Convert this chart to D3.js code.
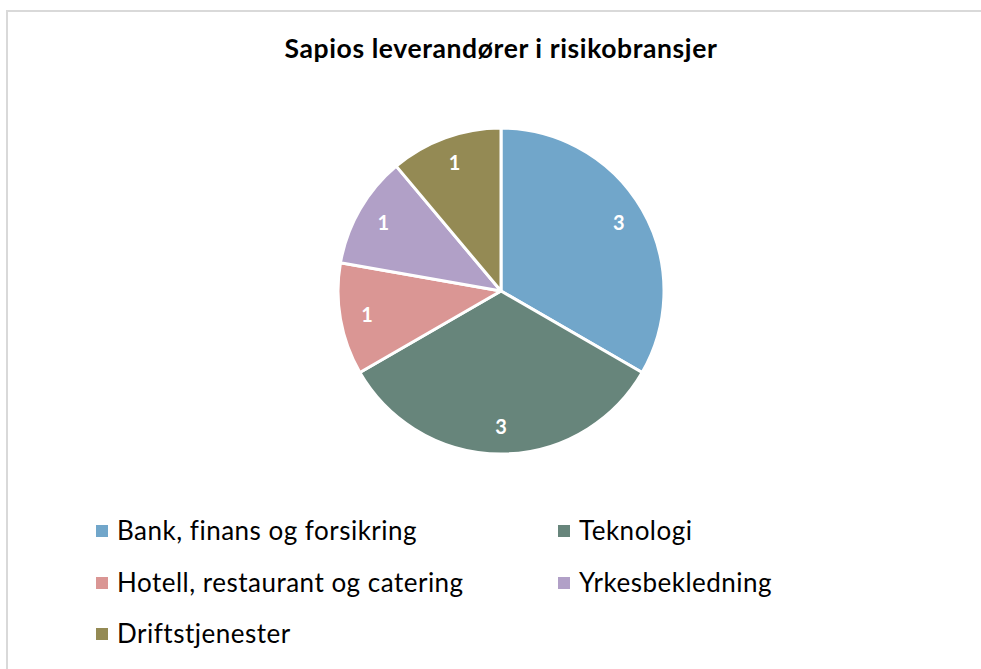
<!DOCTYPE html>
<html>
<head>
<meta charset="utf-8">
<script src="https://cdn.jsdelivr.net/npm/d3@7"></script>
<style>
html,body{margin:0;padding:0;background:#fff;}
svg{display:block;font-family:Lato,"Open Sans",sans-serif;}
</style>
</head>
<body>
<svg id="chart" width="981" height="669"></svg>
<script>
const title = "Sapios leverandører i risikobransjer";
const categories = ["Bank, finans og forsikring", "Teknologi", "Hotell, restaurant og catering", "Yrkesbekledning", "Driftstjenester"];
const values = [3, 3, 1, 1, 1];
const colors = ["#71A6CA", "#67857B", "#DA9694", "#B1A0C7", "#948A54"];

const svg = d3.select("#chart");
const W = 981, H = 669;

// chart area border
svg.append("rect")
  .attr("x", 7).attr("y", 11)
  .attr("width", W + 10).attr("height", H + 10)
  .attr("fill", "#fff")
  .attr("stroke", "#D9D9D9").attr("stroke-width", 2);

svg.append("text")
  .attr("x", 501).attr("y", 58)
  .attr("text-anchor", "middle")
  .attr("font-size", 26.5).attr("font-weight", "bold")
  .attr("letter-spacing", 0.6)
  .attr("fill", "#000")
  .text(title);

const cx = 501, cy = 291, R = 163;
const data = categories.map((c, i) => ({name: c, value: values[i], color: colors[i]}));
const pie = d3.pie().value(d => d.value).sort(null);
const arcs = pie(data);
const arc = d3.arc().innerRadius(0).outerRadius(R);
const labelArc = d3.arc().innerRadius(136).outerRadius(136);

const g = svg.append("g").attr("transform", `translate(${cx},${cy})`);
g.selectAll("path").data(arcs).join("path")
  .attr("d", arc)
  .attr("fill", d => d.data.color)
  .attr("stroke", "#fff").attr("stroke-width", 3)
  .attr("stroke-linejoin", "round");

g.selectAll("text.lbl").data(arcs).join("text")
  .attr("class", "lbl")
  .attr("transform", d => `translate(${labelArc.centroid(d)})`)
  .attr("text-anchor", "middle")
  .attr("dy", "0.36em")
  .attr("font-size", 20).attr("font-weight", "bold")
  .attr("fill", "#fff")
  .text(d => d.data.value);

// legend
const colX = [96, 558];
const rowY = [531, 583, 634];
const leg = svg.append("g");
data.forEach((d, i) => {
  const x = colX[i % 2], y = rowY[Math.floor(i / 2)];
  leg.append("rect")
    .attr("x", x).attr("y", y - 6)
    .attr("width", 12).attr("height", 12)
    .attr("fill", d.color);
  leg.append("text")
    .attr("x", x + 21).attr("y", y)
    .attr("dy", "0.36em")
    .attr("font-size", 26)
    .attr("letter-spacing", 0.5)
    .attr("fill", "#000")
    .text(d.name);
});
</script>
</body>
</html>
